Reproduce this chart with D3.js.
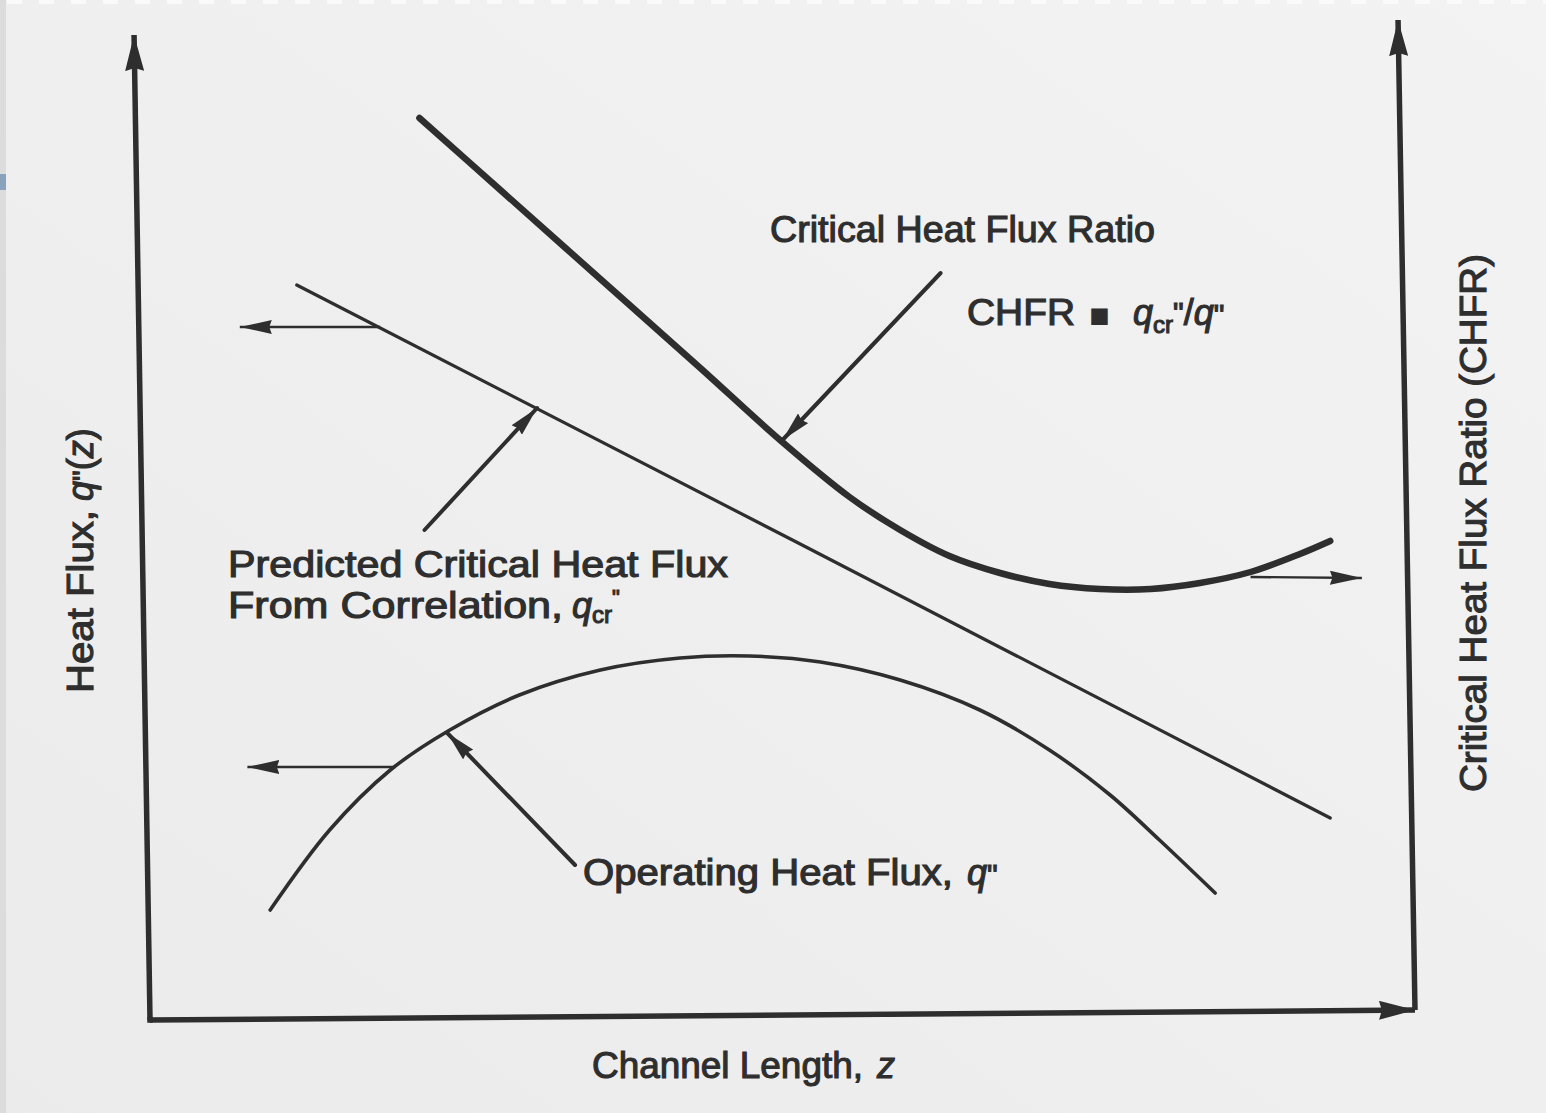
<!DOCTYPE html>
<html>
<head>
<meta charset="utf-8">
<script src="https://cdn.jsdelivr.net/npm/d3@7"></script>
<style>
  html, body { margin: 0; padding: 0; background: #eeeeee; }
  svg { display: block; }
  text { font-family: "Liberation Sans", Arial, sans-serif; fill: #2e2e2e; stroke: #2e2e2e; stroke-width: 1.1px; }
</style>
</head>
<body>
<svg id="chart" width="1546" height="1113"></svg>
<script>
// ---- data (schematic units: channel length z 0..100, heat flux 0..100) ----
const chfrCurve = [
  [21.3, 90.2], [27.7, 83.0], [35.6, 74.1], [43.5, 65.2], [49.8, 58.0],
  [55.3, 52.3], [59.3, 49.0], [63.2, 46.4], [67.2, 44.7], [71.1, 43.6],
  [75.1, 43.1], [79.1, 43.1], [83.0, 43.7], [87.0, 44.8], [90.9, 46.6], [93.3, 47.9]
];
const predictedCHF = [[11.6, 73.5], [51.4, 47.6], [93.3, 20.2]];
const operatingFlux = [
  [9.5, 11.0], [14.2, 19.0], [19.0, 25.0], [23.7, 29.0], [29.2, 32.5],
  [35.6, 35.0], [41.9, 36.2], [47.4, 36.4], [53.0, 35.8], [59.3, 34.0],
  [65.6, 31.0], [71.1, 27.0], [75.9, 22.5], [79.8, 18.0], [84.2, 12.7]
];
// axis-reference arrows (from curve to axis)
const axisArrows = [
  [[18.2, 69.3], [7.1, 69.3]],
  [[19.4, 25.3], [7.7, 25.3]],
  [[87.0, 44.3], [95.8, 44.2]]
];
// label pointer arrows
const pointerArrows = [
  [[62.5, 74.7], [50.0, 58.0]],
  [[21.7, 49.0], [30.6, 61.2]],
  [[33.6, 15.5], [23.5, 28.7]]
];
// axis frame (schematic drawing, slightly skewed as on the scan)
const axisFrame = {
  left:   [[0, 0], [-1.26, 98.5]],
  bottom: [[0, 0], [100, 1.0]],
  right:  [[100, 1.0], [98.66, 100]]
};

// ---- drawing ----
const svg = d3.select("#chart");
const W = 1546, H = 1113;
const x = d3.scaleLinear().domain([0, 100]).range([150, 1415]);
const y = d3.scaleLinear().domain([0, 100]).range([1020, 20]);
const ink = "#2e2e2e";

// paper background
const defs = svg.append("defs");
const grad = defs.append("linearGradient").attr("id", "paper").attr("x1", 0).attr("y1", 1).attr("x2", 1).attr("y2", 0);
grad.append("stop").attr("offset", "0%").attr("stop-color", "#ebebeb");
grad.append("stop").attr("offset", "100%").attr("stop-color", "#f3f3f3");
svg.append("rect").attr("width", W).attr("height", H).attr("fill", "url(#paper)");
// scan edges
svg.append("rect").attr("x", 0).attr("y", 0).attr("width", 6).attr("height", H).attr("fill", "#dcdcdc");
svg.append("rect").attr("x", 0).attr("y", 174).attr("width", 6).attr("height", 16).attr("fill", "#8aa3bd");
svg.append("g").selectAll("rect").data(d3.range(0, 50)).join("rect")
  .attr("x", d => 7 + d * 32).attr("y", 0).attr("width", 15).attr("height", 4).attr("fill", "#fafafa");

function marker(id, len, wid) {
  defs.append("marker").attr("id", id)
    .attr("viewBox", `0 0 ${len} ${wid}`).attr("refX", len).attr("refY", wid / 2)
    .attr("markerWidth", len).attr("markerHeight", wid)
    .attr("markerUnits", "userSpaceOnUse").attr("orient", "auto")
    .append("path").attr("d", `M0,0 L${len},${wid / 2} L0,${wid} L${len * 0.08},${wid / 2} Z`).attr("fill", ink);
}
marker("headAxis", 36, 19);
marker("headSmall", 32, 14);
marker("headPointer", 30, 14);

const straight = d3.line().x(d => x(d[0])).y(d => y(d[1]));
const smooth = d3.line().x(d => x(d[0])).y(d => y(d[1])).curve(d3.curveCatmullRom.alpha(0.5));

// axes
["left", "bottom", "right"].forEach(k => {
  svg.append("path").attr("d", straight(axisFrame[k])).attr("stroke", ink).attr("stroke-width", 5.5)
    .attr("fill", "none").attr("marker-end", "url(#headAxis)");
});
svg.append("path").attr("d", straight([axisFrame.left[0], axisFrame.bottom[0]]))
  .attr("stroke", ink).attr("stroke-width", 5.5).attr("stroke-linecap", "square");

// curves
svg.append("path").attr("d", smooth(chfrCurve)).attr("fill", "none").attr("stroke", ink)
  .attr("stroke-width", 6.5).attr("stroke-linecap", "round");
svg.append("path").attr("d", straight(predictedCHF)).attr("fill", "none").attr("stroke", ink)
  .attr("stroke-width", 3.2).attr("stroke-linecap", "round");
svg.append("path").attr("d", smooth(operatingFlux)).attr("fill", "none").attr("stroke", ink)
  .attr("stroke-width", 3.6).attr("stroke-linecap", "round");

// arrows
svg.append("g").selectAll("path").data(axisArrows).join("path")
  .attr("d", straight).attr("fill", "none").attr("stroke", ink).attr("stroke-width", 2.4)
  .attr("marker-end", "url(#headSmall)");
svg.append("g").selectAll("path").data(pointerArrows).join("path")
  .attr("d", straight).attr("fill", "none").attr("stroke", ink).attr("stroke-width", 4)
  .attr("stroke-linecap", "round").attr("marker-end", "url(#headPointer)");

// texts
const fs = 36;
svg.append("text").attr("x", 770).attr("y", 242).attr("font-size", fs)
  .attr("textLength", 385).attr("lengthAdjust", "spacingAndGlyphs").text("Critical Heat Flux Ratio");

const chfr = svg.append("text").attr("x", 967).attr("y", 325).attr("font-size", fs);
chfr.append("tspan").attr("textLength", 108).attr("lengthAdjust", "spacingAndGlyphs").text("CHFR");
chfr.append("tspan").attr("x", 1090).attr("font-family", "DejaVu Sans").attr("font-size", 20).attr("dy", -3).text("■");
chfr.append("tspan").attr("x", 1133).attr("dy", 3).attr("font-style", "italic").text("q");
chfr.append("tspan").attr("font-size", 24).attr("dy", 8).text("cr");
chfr.append("tspan").attr("font-size", 30).attr("dy", -10).text("\"");
chfr.append("tspan").attr("dy", 2).attr("font-size", fs).text("/");
chfr.append("tspan").attr("font-style", "italic").text("q");
chfr.append("tspan").attr("font-size", 30).text("\"");

svg.append("text").attr("x", 228).attr("y", 577).attr("font-size", fs)
  .attr("textLength", 500).attr("lengthAdjust", "spacingAndGlyphs").text("Predicted Critical Heat Flux");
const fromT = svg.append("text").attr("x", 228).attr("y", 618).attr("font-size", fs);
fromT.append("tspan").attr("textLength", 335).attr("lengthAdjust", "spacingAndGlyphs").text("From Correlation,");
fromT.append("tspan").attr("x", 572).attr("font-style", "italic").text("q");
fromT.append("tspan").attr("font-size", 24).attr("dy", 5).text("cr");
fromT.append("tspan").attr("font-size", 22).attr("dy", -18).text("\"");

const opT = svg.append("text").attr("x", 583).attr("y", 885).attr("font-size", fs);
opT.append("tspan").attr("textLength", 370).attr("lengthAdjust", "spacingAndGlyphs").text("Operating Heat Flux,");
opT.append("tspan").attr("x", 967).attr("font-style", "italic").text("q");
opT.append("tspan").attr("font-size", 30).text("\"");

const chT = svg.append("text").attr("x", 592).attr("y", 1078).attr("font-size", fs);
chT.append("tspan").attr("textLength", 271).attr("lengthAdjust", "spacingAndGlyphs").text("Channel Length,");
chT.append("tspan").attr("x", 877).attr("font-style", "italic").text("z");

const lT = svg.append("text").attr("transform", "translate(93,693) rotate(-90)").attr("font-size", fs);
lT.append("tspan").attr("textLength", 183).attr("lengthAdjust", "spacingAndGlyphs").text("Heat Flux,");
lT.append("tspan").attr("x", 192).attr("font-style", "italic").text("q");
lT.append("tspan").attr("font-size", 30).text("\"");
lT.append("tspan").text("(");
lT.append("tspan").attr("font-style", "italic").text("z");
lT.append("tspan").text(")");

svg.append("text").attr("transform", "translate(1486,792) rotate(-90)").attr("font-size", fs)
  .attr("textLength", 538).attr("lengthAdjust", "spacingAndGlyphs").text("Critical Heat Flux Ratio (CHFR)");
</script>
</body>
</html>
